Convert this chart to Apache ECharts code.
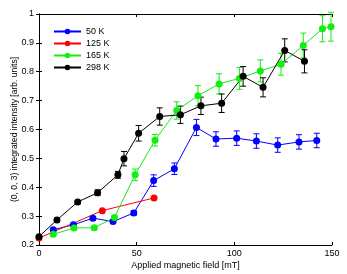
<!DOCTYPE html>
<html><head><meta charset="utf-8">
<script src="https://cdn.jsdelivr.net/npm/echarts@6/dist/echarts.min.js"></script>
<style>html,body{margin:0;padding:0;background:#fff}#c{width:347px;height:274px}</style>
</head><body><div id="c"></div>
<script>
const xTicks = [0, 50, 100, 150];
const yTicks = [0.2, 0.3, 0.4, 0.5, 0.6, 0.7, 0.8, 0.9, 1];
const seriesNames = ['50 K', '125 K', '165 K', '298 K'];
const seriesColors = ['#0000ff', '#ff0000', '#11ee11', '#000000'];

const x50 = [7.3, 17.6, 27.6, 37.9, 48.5, 58.7, 69.3, 80.6, 90.6, 101.2, 111.3, 122.2, 133.1, 142.2];
const y50 = [0.253, 0.270, 0.293, 0.281, 0.311, 0.423, 0.464, 0.607, 0.567, 0.570, 0.560, 0.546, 0.557, 0.562];
const e50 = [0.005, 0.005, 0.006, 0.006, 0.008, 0.02, 0.02, 0.028, 0.025, 0.025, 0.025, 0.025, 0.025, 0.025];

const x125 = [0, 32.4, 58.9];
const y125 = [0.224, 0.319, 0.363];
const e125 = [0, 0, 0];

const x165 = [7.3, 17.9, 28.3, 38.6, 49.2, 59.4, 70.5, 81.4, 92.2, 102.6, 113.3, 123.9, 135.3, 145.1, 149.5];
const y165 = [0.237, 0.259, 0.260, 0.295, 0.443, 0.563, 0.666, 0.717, 0.758, 0.777, 0.803, 0.826, 0.891, 0.949, 0.956];
const e165 = [0.005, 0.005, 0.005, 0.008, 0.02, 0.02, 0.03, 0.035, 0.035, 0.038, 0.038, 0.038, 0.043, 0.045, 0.05];

const x298 = [0, 9.2, 19.8, 30.0, 40.4, 43.5, 51.0, 61.8, 72.4, 82.9, 93.5, 104.5, 114.7, 125.8, 135.9];
const y298 = [0.229, 0.287, 0.349, 0.381, 0.443, 0.499, 0.587, 0.645, 0.651, 0.682, 0.691, 0.784, 0.746, 0.874, 0.836];
const e298 = [0.004, 0.005, 0.006, 0.01, 0.012, 0.025, 0.027, 0.03, 0.03, 0.03, 0.032, 0.034, 0.033, 0.04, 0.04];

const xs = [x50, x125, x165, x298];
const ys = [y50, y125, y165, y298];
const es = [e50, e125, e165, e298];

const chart = echarts.init(document.getElementById('c'));
const font = 'Liberation Sans, Arial, sans-serif';
const series = [];
seriesNames.forEach((name, i) => {
  const pts = xs[i].map((x, k) => [x, ys[i][k], es[i][k]]);
  series.push({
    type: 'custom', name: name + ' err', silent: true, z: 2,
    data: pts.filter(p => p[2] > 0),
    renderItem: function (params, api) {
      const x = api.value(0), y = api.value(1), e = api.value(2);
      const top = api.coord([x, y + e]);
      const bot = api.coord([x, y - e]);
      const w = 3;
      const st = { stroke: seriesColors[i], lineWidth: 1 };
      return { type: 'group', children: [
        { type: 'line', shape: { x1: top[0], y1: top[1], x2: bot[0], y2: bot[1] }, style: st },
        { type: 'line', shape: { x1: top[0] - w, y1: top[1], x2: top[0] + w, y2: top[1] }, style: st },
        { type: 'line', shape: { x1: bot[0] - w, y1: bot[1], x2: bot[0] + w, y2: bot[1] }, style: st }
      ]};
    }
  });
  series.push({
    type: 'line', name: name, z: 3,
    data: pts.map(p => [p[0], p[1]]),
    symbol: 'circle', symbolSize: 7,
    lineStyle: { color: seriesColors[i], width: 1 },
    itemStyle: { color: seriesColors[i] },
    animation: false
  });
});

const axisLine = { show: true, lineStyle: { color: '#000', width: 1 } };
chart.setOption({
  animation: false,
  backgroundColor: '#fff',
  textStyle: { fontFamily: font },
  legend: {
    data: seriesNames,
    orient: 'vertical', left: 53, top: 27,
    itemWidth: 27, itemHeight: 7, itemGap: 3, padding: [0, 0, 0, 0],
    textStyle: { fontSize: 9, color: '#000', fontFamily: font },
    itemStyle: { borderWidth: 0 }
  },
  grid: { left: 39, right: 15, top: 14, bottom: 29, containLabel: false, outerBoundsMode: 'none' },
  xAxis: [{
    type: 'value', min: 0, max: 150, interval: 50,
    axisLine: axisLine, axisTick: { inside: true, length: 3, lineStyle: { color: '#000' } },
    axisLabel: { fontSize: 9, color: '#000', margin: 4, fontFamily: font },
    splitLine: { show: false },
    name: 'Applied magnetic field [mT]', nameLocation: 'middle', nameGap: 16, nameMoveOverlap: false,
    nameTextStyle: { fontSize: 9, color: '#000', fontFamily: font }
  }, {
    type: 'value', min: 0, max: 150, interval: 50, position: 'top',
    axisLine: axisLine, axisTick: { inside: true, length: 3, lineStyle: { color: '#000' } },
    axisLabel: { show: false }, splitLine: { show: false }
  }],
  yAxis: [{
    type: 'value', min: 0.2, max: 1, interval: 0.1,
    axisLine: axisLine, axisTick: { inside: true, length: 3, lineStyle: { color: '#000' } },
    axisLabel: { fontSize: 9, color: '#000', margin: 5, fontFamily: font,
      formatter: v => { const r = Math.round(v * 10) / 10; return r === 1 ? '1' : r.toFixed(1); } },
    splitLine: { show: false },
    name: '(0, 0, 3) integrated intensity [arb. units]', nameLocation: 'middle', nameGap: 20, nameMoveOverlap: false,
    nameTextStyle: { fontSize: 8.5, color: '#000', fontFamily: font }
  }, {
    type: 'value', min: 0.2, max: 1, interval: 0.1, position: 'right',
    axisLine: axisLine, axisTick: { inside: true, length: 3, lineStyle: { color: '#000' } },
    axisLabel: { show: false }, splitLine: { show: false }
  }],
  series: series
});
</script></body></html>
